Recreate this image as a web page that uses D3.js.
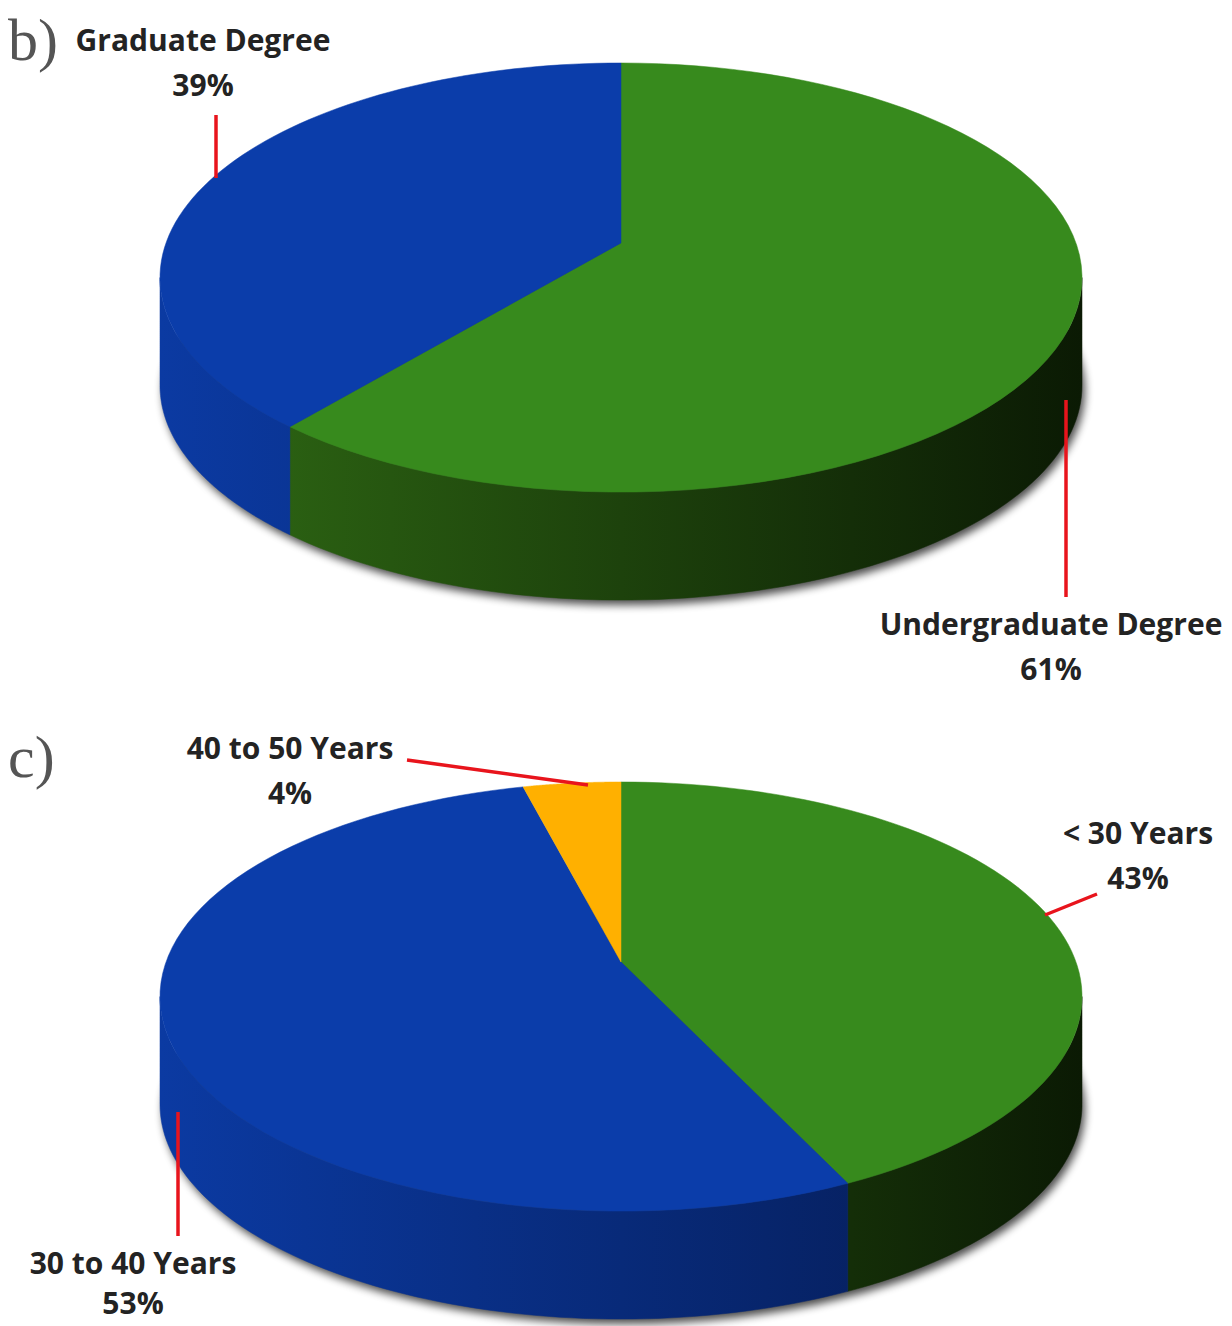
<!DOCTYPE html>
<head>
    <meta charset="utf-8">
    <script src="https://d3js.org/d3.v7.min.js"></script>
    <style type="text/css">
        body { margin: 0; background: #fff; }
        .label { font-family: "Open Sans", sans-serif; font-weight: 700; font-size: 30px; fill: #232323; }
        .panel { font-family: "Liberation Serif", serif; font-size: 60px; fill: #555; }
        .leader { stroke: #e8141c; stroke-width: 3.5px; fill: none; }
    </style>
</head>
<body>
    <div id="chart"></div>
</body>
</html>

<script type="text/javascript">
    // data
    var degreeLabels = ["Undergraduate Degree", "Graduate Degree"];
    var degreeValues = [61, 39];
    var ageLabels = ["< 30 Years", "30 to 40 Years", "40 to 50 Years"];
    var ageValues = [43, 53, 4];

    var width = 1232, height = 1326;
    // perspective pie: apex (cx, cy), k = perspective strength
    var A = 455, B = 209, k = 0.161, depth = 108;

    var svg = d3.select("#chart").append("svg")
        .attr("width", width)
        .attr("height", height);

    var defs = svg.append("defs");
    defs.append("filter").attr("id", "blur")
        .attr("x", "-10%").attr("y", "-20%").attr("width", "120%").attr("height", "140%")
        .append("feGaussianBlur").attr("stdDeviation", 4);

    // side gradients (left lit, right dark)
    function sideGrad(id, c0, c1) {
        var g = defs.append("linearGradient").attr("id", id)
            .attr("gradientUnits", "userSpaceOnUse")
            .attr("x1", 160).attr("x2", 1082).attr("y1", 0).attr("y2", 0);
        g.append("stop").attr("offset", "0%").attr("stop-color", c0);
        g.append("stop").attr("offset", "100%").attr("stop-color", c1);
    }
    sideGrad("sideGreen", "#2f6a14", "#0b1a04");
    sideGrad("sideBlue", "#0b3aa2", "#051a50");
    sideGrad("sideOrange", "#d99a00", "#8a5f00");

    var topColor = d3.scaleOrdinal().domain(["green", "blue", "orange"]).range(["#378a1d", "#0b3daa", "#ffb000"]);
    var sideColor = d3.scaleOrdinal().domain(["green", "blue", "orange"]).range(["url(#sideGreen)", "url(#sideBlue)", "url(#sideOrange)"]);

    var pie = d3.pie().sort(null).value(function(d) { return d.value; });

    function pt(cx, cy, a, dy) {
        var u = Math.sin(a), v = -Math.cos(a), w = 1 - k * v;
        return [cx + A * u / w, cy + B * v / w + (dy || 0)];
    }

    function topPath(cx, cy, d) {
        var p = "M" + cx + "," + cy, n = 80;
        for (var i = 0; i <= n; i++) {
            var a = d.startAngle + (d.endAngle - d.startAngle) * i / n;
            p += "L" + pt(cx, cy, a).join(",");
        }
        return p + "Z";
    }

    var aLo = Math.acos(-k), aHi = 2 * Math.PI - Math.acos(-k);

    function sidePath(cx, cy, d) {
        var a0 = Math.max(d.startAngle, aLo), a1 = Math.min(d.endAngle, aHi);
        if (a1 <= a0) return null;
        var n = 80, p = "", i, a;
        for (i = 0; i <= n; i++) {
            a = a0 + (a1 - a0) * i / n;
            p += (i ? "L" : "M") + pt(cx, cy, a).join(",");
        }
        for (i = n; i >= 0; i--) {
            a = a0 + (a1 - a0) * i / n;
            p += "L" + pt(cx, cy, a, depth).join(",");
        }
        return p + "Z";
    }

    function shadowPath(cx, cy) {
        var p = "", n = 120;
        for (var i = 0; i <= n; i++) {
            p += (i ? "L" : "M") + pt(cx + 3, cy, 2 * Math.PI * i / n, depth + 5).join(",");
        }
        return p + "Z";
    }

    function drawPie(cx, cy, labels, values, colors) {
        var data = labels.map(function(l, i) { return {label: l, value: values[i], color: colors[i]}; });
        var arcs = pie(data);
        var g = svg.append("g");

        g.append("path")
            .attr("d", shadowPath(cx, cy))
            .attr("fill", "#000").attr("opacity", 0.7)
            .attr("filter", "url(#blur)");

        g.selectAll("path.side").data(arcs.filter(function(d) { return sidePath(cx, cy, d); }))
            .enter().append("path").attr("class", "side")
            .attr("d", function(d) { return sidePath(cx, cy, d); })
            .attr("fill", function(d) { return sideColor(d.data.color); })
            .attr("stroke", function(d) { return sideColor(d.data.color); })
            .attr("stroke-width", 0.5);

        g.selectAll("path.top").data(arcs)
            .enter().append("path").attr("class", "top")
            .attr("d", function(d) { return topPath(cx, cy, d); })
            .attr("fill", function(d) { return topColor(d.data.color); })
            .attr("stroke", function(d) { return topColor(d.data.color); })
            .attr("stroke-width", 0.5);
    }

    function label(x, y, name, pct, gap) {
        var t = svg.append("text").attr("class", "label").attr("text-anchor", "middle");
        t.append("tspan").attr("x", x).attr("y", y).text(name);
        t.append("tspan").attr("x", x).attr("y", y + (gap || 45)).text(pct + "%");
    }

    function leader(pts) {
        svg.append("path").attr("class", "leader").attr("d", d3.line()(pts));
    }

    // b) education
    drawPie(621, 243, degreeLabels, degreeValues, ["green", "blue"]);
    svg.append("text").attr("class", "panel").attr("x", 8).attr("y", 60).text("b)");
    label(203, 51, degreeLabels[1], degreeValues[1]);
    label(1051, 635, degreeLabels[0], degreeValues[0]);
    leader([[216, 115], [216, 178]]);
    leader([[1066, 400], [1066, 597]]);

    // c) age
    drawPie(621, 962, ageLabels, ageValues, ["green", "blue", "orange"]);
    svg.append("text").attr("class", "panel").attr("x", 8).attr("y", 777).text("c)");
    label(290, 759, ageLabels[2], ageValues[2]);
    label(1138, 844, ageLabels[0], ageValues[0]);
    label(133, 1274, ageLabels[1], ageValues[1], 40);
    leader([[407, 760], [588, 785]]);
    leader([[1045, 915], [1097, 894]]);
    leader([[178, 1112], [178, 1236]]);
</script>
